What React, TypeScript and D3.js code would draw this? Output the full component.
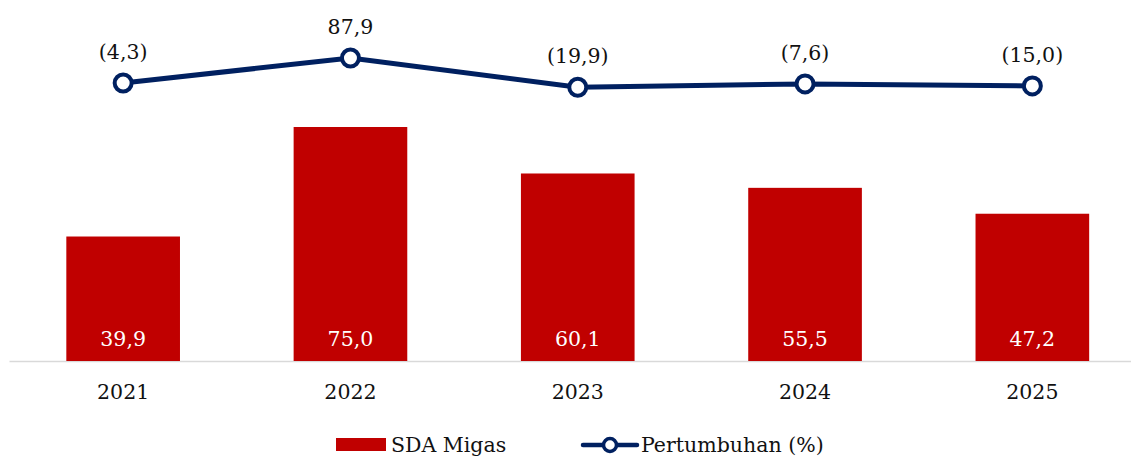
import * as d3 from "d3";
import { useEffect, useRef } from "react";

const years = ["2021", "2022", "2023", "2024", "2025"];
const sdaMigas = [39.9, 75.0, 60.1, 55.5, 47.2];
const pertumbuhan = [-4.3, 87.9, -19.9, -7.6, -15.0];

const W = 1131, H = 458;
const FONT = "'DejaVu Serif', Georgia, serif";
const FS = 20.5;

const fmt = (v: number) => {
  const s = Math.abs(v).toFixed(1).replace(".", ",");
  return v < 0 ? `(${s})` : s;
};

export default function App() {
  const ref = useRef<SVGSVGElement>(null);

  useEffect(() => {
    const svg = d3.select(ref.current);
    svg.selectAll("*").remove();

    const x = d3.scaleBand().domain(years).range([9.5, 1146]).paddingInner(0.5).paddingOuter(0.25);
    const y = d3.scaleLinear().domain([0, 75]).range([361, 127]);
    const y2 = d3.scaleLinear().domain([-4.3, 87.9]).range([83, 58]);
    const cx = (d: string) => (x(d) as number) + x.bandwidth() / 2;

    // axis line
    svg.append("line")
      .attr("x1", 9.5).attr("x2", W).attr("y1", 361.5).attr("y2", 361.5)
      .attr("stroke", "#d9d9d9").attr("stroke-width", 1.5);

    // bars
    svg.selectAll("rect.bar")
      .data(sdaMigas)
      .enter()
      .append("rect")
      .attr("class", "bar")
      .attr("x", (_, i) => x(years[i]) as number)
      .attr("width", x.bandwidth())
      .attr("y", d => y(d))
      .attr("height", d => y(0) - y(d))
      .attr("fill", "#c00000");

    svg.selectAll("text.barlbl")
      .data(sdaMigas)
      .enter()
      .append("text")
      .attr("class", "barlbl")
      .attr("x", (_, i) => cx(years[i]))
      .attr("y", 346)
      .attr("text-anchor", "middle")
      .attr("fill", "white")
      .attr("font-family", FONT)
      .attr("font-size", FS)
      .text(d => fmt(d));

    // year labels
    svg.selectAll("text.year")
      .data(years)
      .enter()
      .append("text")
      .attr("class", "year")
      .attr("x", d => cx(d))
      .attr("y", 399)
      .attr("text-anchor", "middle")
      .attr("fill", "#111")
      .attr("font-family", FONT)
      .attr("font-size", FS)
      .text(d => d);

    // line
    const line = d3.line<number>()
      .x((_, i) => cx(years[i]))
      .y(d => y2(d));

    svg.append("path")
      .datum(pertumbuhan)
      .attr("d", line)
      .attr("fill", "none")
      .attr("stroke", "#002060")
      .attr("stroke-width", 5);

    svg.selectAll("circle.pt")
      .data(pertumbuhan)
      .enter()
      .append("circle")
      .attr("class", "pt")
      .attr("cx", (_, i) => cx(years[i]))
      .attr("cy", d => y2(d))
      .attr("r", 8.5)
      .attr("fill", "white")
      .attr("stroke", "#002060")
      .attr("stroke-width", 4);

    svg.selectAll("text.ptlbl")
      .data(pertumbuhan)
      .enter()
      .append("text")
      .attr("class", "ptlbl")
      .attr("x", (_, i) => cx(years[i]))
      .attr("y", d => y2(d) - 24)
      .attr("text-anchor", "middle")
      .attr("fill", "#111")
      .attr("font-family", FONT)
      .attr("font-size", FS)
      .text(d => fmt(d));

    // legend
    const lg = svg.append("g").attr("font-family", FONT).attr("font-size", FS).attr("fill", "#111");
    lg.append("rect").attr("x", 336).attr("y", 438).attr("width", 50).attr("height", 13).attr("fill", "#c00000");
    lg.append("text").attr("x", 391).attr("y", 452).text("SDA Migas");
    lg.append("line").attr("x1", 583).attr("x2", 637).attr("y1", 445).attr("y2", 445)
      .attr("stroke", "#002060").attr("stroke-width", 4.5).attr("stroke-linecap", "round");
    lg.append("circle").attr("cx", 610).attr("cy", 445).attr("r", 6.5)
      .attr("fill", "white").attr("stroke", "#002060").attr("stroke-width", 3.5);
    lg.append("text").attr("x", 641).attr("y", 452).text("Pertumbuhan (%)");
  }, []);

  return (
    <svg ref={ref} width={W} height={H} style={{ display: "block", position: "absolute", left: 0, top: 0 }} />
  );
}
